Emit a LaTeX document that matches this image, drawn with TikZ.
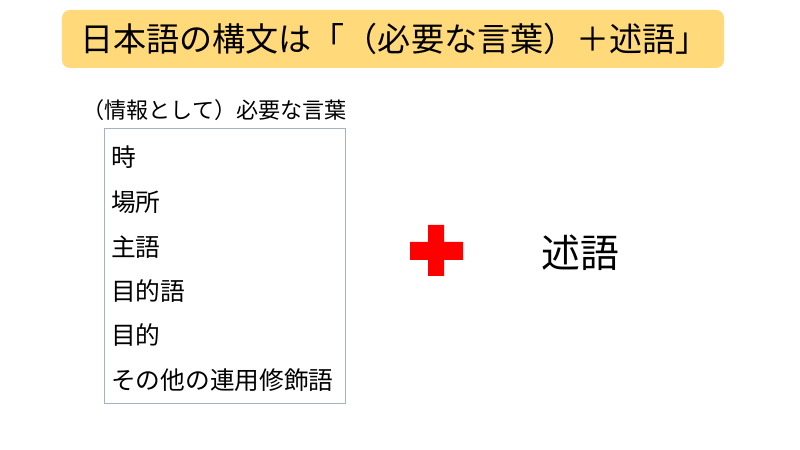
\documentclass[tikz,border=0pt]{standalone}
\usepackage{fontspec}
\newfontfamily\jpfont{Noto Sans CJK JP}
\usetikzlibrary{positioning}
\definecolor{titlefill}{HTML}{FFD97A}
\definecolor{boxline}{HTML}{A3B3C4}
\definecolor{plusred}{HTML}{FF0000}
\tikzset{
	item/.style={anchor=west, inner sep=0pt, font=\jpfont\fontsize{24.8}{26}\selectfont},
	jp/.style={inner sep=0pt, font=\jpfont\fontsize{#1}{#1}\selectfont}
}

\begin{document}
\begin{tikzpicture}[x=1bp,y=-1bp]
		\useasboundingbox (0,0) rectangle (800,450);
		\node [fill=titlefill, rounded corners=8bp, minimum width=662bp, minimum height=58bp, jp=33.2] (title) at (393,39) {\hspace{3bp}日本語の構文は「（必要な言葉）＋述語」};
		\node [jp=22.2, anchor=west] (need) at (82,110) {（情報として）必要な言葉};
		\node [draw=boxline, line width=0.8bp, minimum width=241bp, minimum height=275bp] (words) at (224.5,265.5) {};
		\node [item] (toki) at (111,157) {時};
		\node [item] (basho) at (111,202) {場所};
		\node [item] (shugo) at (111,247) {主語};
		\node [item] (mokutekigo) at (111,291) {目的語};
		\node [item] (mokuteki) at (111,335) {目的};
		\node [item] (sonota) at (111,380) {その他の連用修飾語};
		\fill [plusred] (428,225) rectangle (444,276) (410,242) rectangle (463,260);
		\node [jp=39] (jutsugo) at (580,253) {述語};
	\end{tikzpicture}
\end{document}
